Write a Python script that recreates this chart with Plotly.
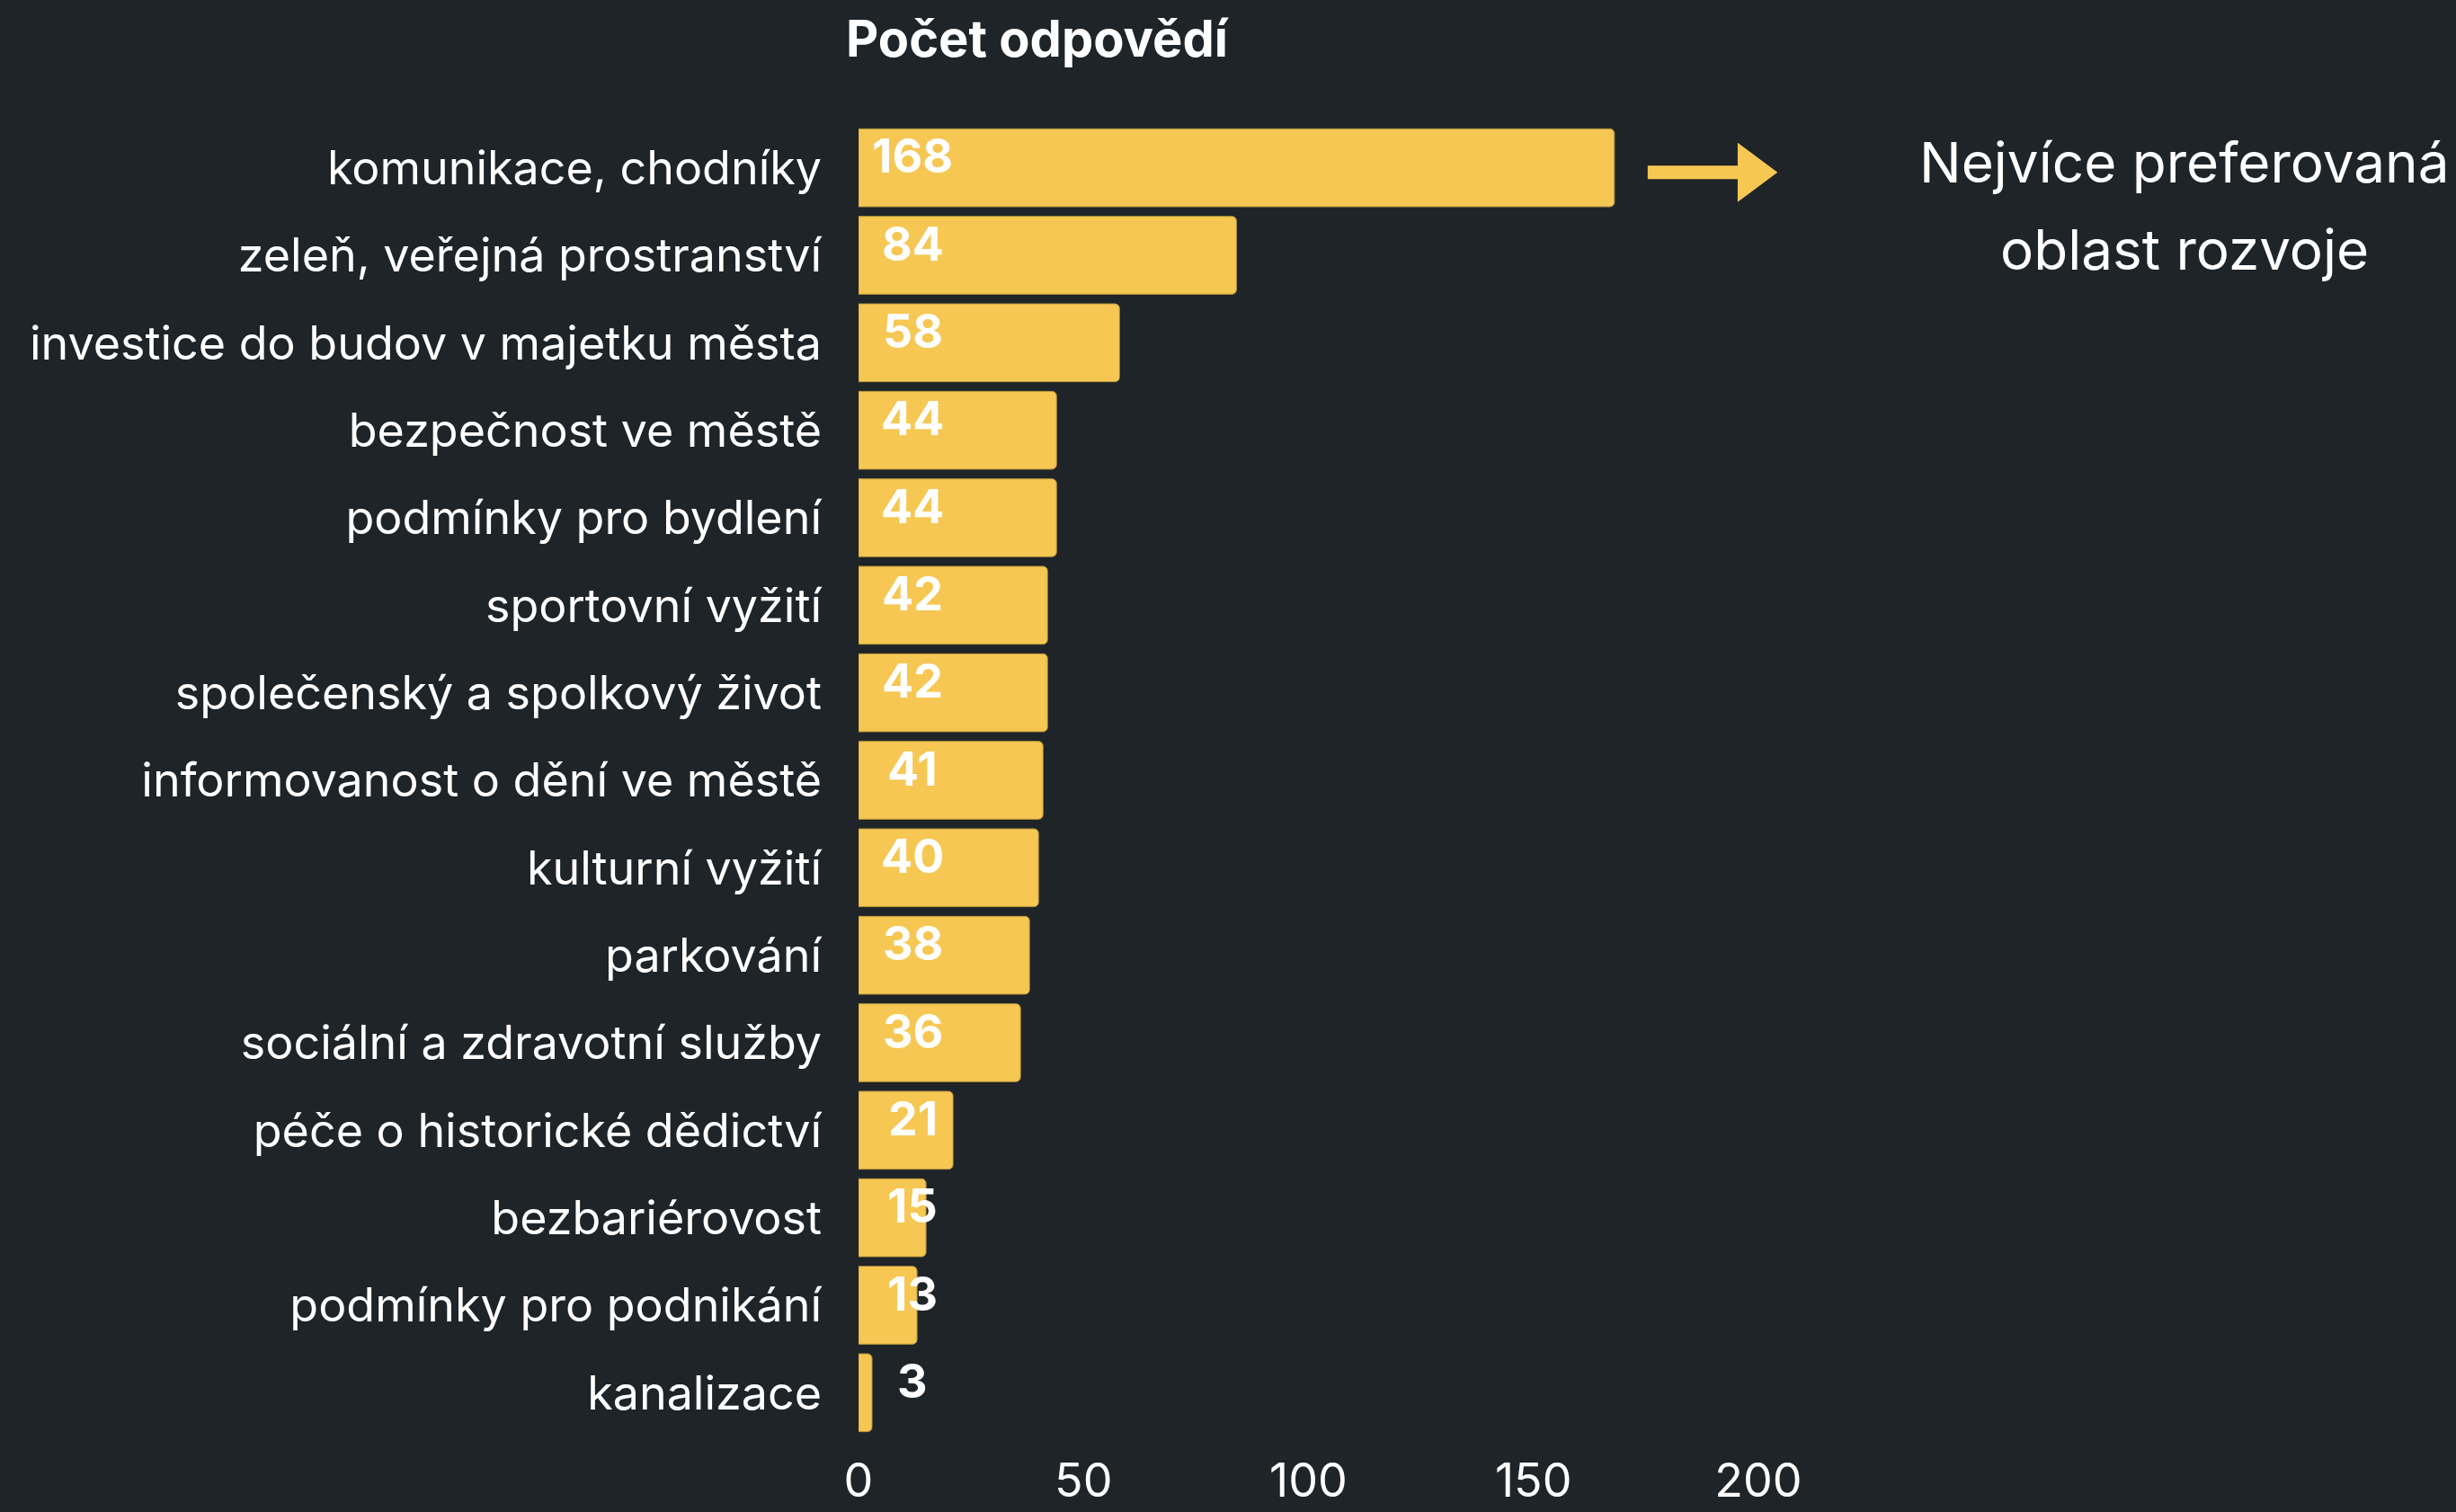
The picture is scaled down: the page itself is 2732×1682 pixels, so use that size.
import plotly.graph_objects as go

categories = [
    "komunikace, chodníky",
    "zeleň, veřejná prostranství",
    "investice do budov v majetku města",
    "bezpečnost ve městě",
    "podmínky pro bydlení",
    "sportovní vyžití",
    "společenský a spolkový život",
    "informovanost o dění ve městě",
    "kulturní vyžití",
    "parkování",
    "sociální a zdravotní služby",
    "péče o historické dědictví",
    "bezbariérovost",
    "podmínky pro podnikání",
    "kanalizace",
]
values = [168, 84, 58, 44, 44, 42, 42, 41, 40, 38, 36, 21, 15, 13, 3]
x_ticks = [0, 50, 100, 150, 200]
title_text = "Počet odpovědí"
note_lines = ["Nejvíce preferovaná", "oblast rozvoje"]

BG = "#1E2428"
YELLOW = "#F6C752"
FONT = "Inter"
LABEL_X = 12

fig = go.Figure()
fig.add_trace(go.Bar(
    x=values, y=categories, orientation="h",
    marker=dict(color=YELLOW, line=dict(color="#B8963F", width=1), cornerradius=5),
    hoverinfo="x+y",
))

for c, v in zip(categories, values):
    fig.add_annotation(x=LABEL_X, y=c, text=f"<b>{v}</b>", showarrow=False,
                       xanchor="center", yanchor="middle", yshift=13,
                       font=dict(family=FONT, size=52, color="white"))

n = len(categories)
y_arrow = 1 - 0.5 / n - 5 / 1460
# arrow shaft
fig.add_shape(type="line", xref="x", yref="paper", x0=175.4, x1=196.5, y0=y_arrow, y1=y_arrow,
              line=dict(color=YELLOW, width=15), layer="above")
# arrow head
hh = 29 / 1460
fig.add_shape(type="path", xref="x", yref="paper",
              path=f"M 195.8 {y_arrow - hh} L 195.8 {y_arrow + hh} L 203.6 {y_arrow} Z",
              fillcolor=YELLOW, line=dict(color=YELLOW, width=4), layer="above")

for line, ypix in zip(note_lines, [181, 277]):
    fig.add_annotation(x=(2430 - 955) / 1051, xref="paper", y=(1598 - ypix) / 1460, yref="paper",
                       text=line, showarrow=False, xanchor="center", yanchor="middle",
                       align="center", font=dict(family=FONT, size=62, color="white"))

fig.update_layout(
    width=2732, height=1682,
    paper_bgcolor=BG, plot_bgcolor=BG,
    margin=dict(l=955, r=2732 - 955 - 1051, t=138, b=1682 - 1598),
    showlegend=False,
    bargap=0.11,
    font=dict(family=FONT, color="white"),
    title=dict(text=f"<b>{title_text}</b>", xref="container", x=941 / 2732, xanchor="left",
               yref="container", y=1 - 43 / 1682, yanchor="middle",
               font=dict(family=FONT, size=56, color="white")),
    xaxis=dict(range=[0, 210], tickvals=x_ticks, ticktext=[str(t) for t in x_ticks],
               showgrid=False, zeroline=False, showline=False, ticks="", automargin=False,
               tickfont=dict(family=FONT, size=52, color="white"), ticklabelstandoff=14),
    yaxis=dict(categoryorder="array", categoryarray=categories, autorange="reversed",
               showgrid=False, zeroline=False, showline=False, ticks="", automargin=False,
               tickfont=dict(family=FONT, size=52, color="white"), ticklabelstandoff=40),
)

fig.write_html("out.html", config={"displayModeBar": False},
               post_script="document.body.style.margin='0';document.body.style.background='#1E2428';")
